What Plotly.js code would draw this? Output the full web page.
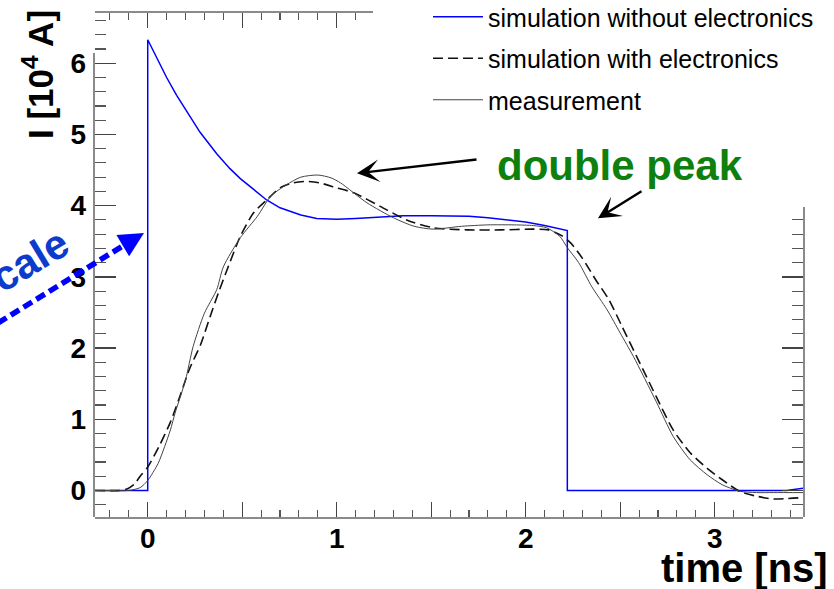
<!DOCTYPE html>
<html><head><meta charset="utf-8">
<script src="https://cdn.plot.ly/plotly-3.0.1.min.js"></script>
<style>html,body{margin:0;padding:0;background:#fff;}</style>
</head><body><div id="chart" style="width:834px;height:589px;"></div>
<script>
const seriesNames = ['simulation without electronics', 'simulation with electronics', 'measurement'];

const tNoElec = [-0.279, 0, 0, 0.03, 0.065, 0.10, 0.153, 0.206, 0.277, 0.365, 0.435, 0.49, 0.523, 0.595, 0.629, 0.70, 0.752, 0.81, 0.894, 0.95, 1.0, 1.1, 1.2, 1.35, 1.5, 1.6, 1.7, 1.8, 1.9, 2.0, 2.1, 2.22, 2.22, 3.38, 3.467];
const iNoElec = [0, 0, 6.33, 6.17, 5.98, 5.80, 5.55, 5.32, 5.03, 4.73, 4.52, 4.38, 4.31, 4.15, 4.08, 3.97, 3.92, 3.87, 3.82, 3.81, 3.81, 3.82, 3.84, 3.86, 3.86, 3.86, 3.85, 3.83, 3.80, 3.77, 3.72, 3.65, 0, 0, 0.03];

const tWithElec = [-0.279, -0.15, -0.11, -0.07, -0.04, 0, 0.06, 0.12, 0.17, 0.22, 0.28, 0.33, 0.38, 0.42, 0.49, 0.56, 0.63, 0.70, 0.77, 0.84, 0.91, 1.0, 1.09, 1.23, 1.37, 1.51, 1.69, 1.87, 2.04, 2.12, 2.19, 2.24, 2.30, 2.37, 2.44, 2.51, 2.60, 2.69, 2.78, 2.87, 2.96, 3.04, 3.13, 3.22, 3.31, 3.467];
const iWithElec = [0, 0, 0.02, 0.09, 0.2, 0.33, 0.62, 0.96, 1.32, 1.70, 2.05, 2.44, 2.82, 3.10, 3.57, 3.90, 4.08, 4.25, 4.32, 4.34, 4.32, 4.25, 4.18, 3.99, 3.80, 3.69, 3.66, 3.66, 3.67, 3.66, 3.58, 3.47, 3.26, 2.96, 2.68, 2.30, 1.81, 1.32, 0.85, 0.53, 0.31, 0.15, -0.01, -0.08, -0.12, -0.10];

const tMeas = [-0.279, -0.1, -0.04, 0, 0.055, 0.09, 0.12, 0.145, 0.2, 0.24, 0.30, 0.365, 0.40, 0.49, 0.58, 0.65, 0.72, 0.81, 0.90, 0.97, 1.02, 1.16, 1.30, 1.41, 1.51, 1.66, 1.80, 1.94, 2.04, 2.11, 2.18, 2.22, 2.28, 2.35, 2.43, 2.50, 2.57, 2.69, 2.78, 2.87, 2.96, 3.04, 3.13, 3.22, 3.31, 3.467];
const iMeas = [0, 0, 0.04, 0.14, 0.38, 0.62, 0.85, 1.09, 1.55, 2.02, 2.49, 2.82, 3.14, 3.55, 3.85, 4.13, 4.27, 4.40, 4.43, 4.39, 4.32, 4.04, 3.83, 3.71, 3.67, 3.71, 3.73, 3.73, 3.72, 3.69, 3.57, 3.41, 3.20, 2.86, 2.54, 2.21, 1.88, 1.25, 0.76, 0.43, 0.22, 0.08, -0.01, -0.03, -0.03, -0.03];

const xTickVals = [0, 0.5, 1, 1.5, 2, 2.5, 3];
const xTickText = ['0', '', '1', '', '2', '', '3'];
const yTickVals = [0, 1, 2, 3, 4, 5, 6];
const yTickText = ['0', '1', '2', '3', '4', '5', '6'];

const xRange = [-0.279, 3.467];
const yRange = [-0.373, 6.706];

// layout helpers: pixel -> paper
const L = 95, T = 13, PW = 708, PH = 504;
const px = x => (x - L) / PW;
const py = y => (T + PH - y) / PH;

const FONT = 'Liberation Sans, Arial, Helvetica, sans-serif';

const traces = [
  {x: tNoElec, y: iNoElec, name: seriesNames[0], type: 'scatter', mode: 'lines',
   line: {color: '#0000ff', width: 1.5}, legendgroup: 'a', hoverinfo: 'skip'},
  {x: tWithElec, y: iWithElec, name: seriesNames[1], type: 'scatter', mode: 'lines',
   line: {color: '#111111', width: 1.6, dash: '10px,5px', shape: 'spline', smoothing: 0.7}, legendgroup: 'b', hoverinfo: 'skip'},
  {x: tMeas, y: iMeas, name: seriesNames[2], type: 'scatter', mode: 'lines',
   line: {color: '#444444', width: 1, shape: 'spline', smoothing: 0.7}, legendgroup: 'c', hoverinfo: 'skip'},
  // helpers that only bind the partial frame axes (draw nothing)
  {x: tMeas, y: iMeas, xaxis: 'x2', yaxis: 'y', mode: 'none', showlegend: false, hoverinfo: 'skip'},
  {x: tMeas, y: iMeas, xaxis: 'x', yaxis: 'y2', mode: 'none', showlegend: false, hoverinfo: 'skip'},
  {x: tMeas, y: iMeas, xaxis: 'x', yaxis: 'y3', mode: 'none', showlegend: false, hoverinfo: 'skip'}
];

const axCommon = {
  showgrid: false, zeroline: false, ticks: 'inside', tickcolor: '#444', tickwidth: 1.3,
  showline: true, linecolor: '#8a8a8a', linewidth: 1.6,
  tickfont: {family: FONT, size: 28, color: '#000', weight: 700},
  fixedrange: true
};

const topDomainEnd = px(373);
const rightDomainEnd = py(207);
const leftLineEnd = py(53);

const layout = {
  width: 834, height: 589,
  margin: {l: 95, r: 31, t: 13, b: 72, pad: 0, autoexpand: false},
  paper_bgcolor: '#ffffff', plot_bgcolor: 'rgba(0,0,0,0)',
  showlegend: true,
  legend: {
    x: px(428), xanchor: 'left', y: py(-6), yanchor: 'top',
    bgcolor: 'rgba(0,0,0,0)', borderwidth: 0,
    font: {family: FONT, size: 25, color: '#000'},
    traceorder: 'grouped', tracegroupgap: 6, itemwidth: 50
  },
  xaxis: Object.assign({}, axCommon, {
    range: xRange, tickmode: 'array', tickvals: xTickVals, ticktext: xTickText,
    ticklen: 15, ticklabelstandoff: -4,
    minor: {ticks: 'inside', dtick: 0.1, tick0: 0, ticklen: 7, tickcolor: '#555', tickwidth: 1.1}
  }),
  xaxis2: Object.assign({}, axCommon, {
    range: [xRange[0], xRange[0] + (xRange[1] - xRange[0]) * topDomainEnd],
    domain: [0, topDomainEnd], anchor: 'y', side: 'top',
    tickmode: 'array', tickvals: xTickVals, showticklabels: false, ticklen: 15,
    minor: {ticks: 'inside', dtick: 0.1, tick0: 0, ticklen: 7, tickcolor: '#555', tickwidth: 1.1}
  }),
  yaxis: Object.assign({}, axCommon, {
    range: yRange, tickmode: 'array', tickvals: yTickVals, ticktext: yTickText,
    ticklen: 21, showline: false, ticklabelstandoff: 8,
    minor: {ticks: 'inside', dtick: 0.2, tick0: 0, ticklen: 11, tickcolor: '#555', tickwidth: 1.1}
  }),
  yaxis2: Object.assign({}, axCommon, {
    range: [yRange[0], yRange[0] + (yRange[1] - yRange[0]) * rightDomainEnd],
    domain: [0, rightDomainEnd], anchor: 'x', side: 'right',
    tickmode: 'array', tickvals: yTickVals, showticklabels: false, ticklen: 21,
    minor: {ticks: 'inside', dtick: 0.2, tick0: 0, ticklen: 11, tickcolor: '#555', tickwidth: 1.1}
  }),
  yaxis3: Object.assign({}, axCommon, {
    range: [yRange[0], yRange[0] + (yRange[1] - yRange[0]) * leftLineEnd],
    domain: [0, leftLineEnd], anchor: 'x', side: 'left',
    ticks: '', showticklabels: false
  }),
  shapes: [
    {type: 'line', xref: 'paper', yref: 'paper', x0: px(-2), y0: py(323), x1: px(134), y1: py(239),
     line: {color: '#0000ff', width: 5.5, dash: '10px,5px'}, layer: 'above'}
  ],
  annotations: [
    {xref: 'paper', yref: 'paper', x: px(38), y: py(75), xanchor: 'center', yanchor: 'middle',
     text: 'I [10<sup>4</sup> A]', textangle: -90,
     showarrow: false, font: {family: FONT, size: 35, color: '#000', weight: 700}},
    {xref: 'paper', yref: 'paper', x: px(830), y: py(568), xanchor: 'right', yanchor: 'middle',
     text: 'time [ns]', showarrow: false, font: {family: FONT, size: 40, color: '#000', weight: 700}},
    {xref: 'paper', yref: 'paper', x: px(620), y: py(165.5), xanchor: 'center', yanchor: 'middle',
     text: 'double peak', showarrow: false,
     font: {family: FONT, size: 42, color: '#0d800d', weight: 700}},
    {xref: 'paper', yref: 'paper', x: px(357), y: py(173.3), text: '', showarrow: true,
     ax: 121, ay: -14, arrowhead: 3, arrowsize: 1.5, arrowwidth: 2.5, arrowcolor: '#000'},
    {xref: 'paper', yref: 'paper', x: px(598), y: py(218.3), text: '', showarrow: true,
     ax: 45, ay: -28, arrowhead: 3, arrowsize: 1.5, arrowwidth: 2.5, arrowcolor: '#000'},
    {xref: 'paper', yref: 'paper', x: px(144), y: py(233), text: '', showarrow: true,
     ax: -15, ay: 9, arrowhead: 2, arrowsize: 0.9, arrowwidth: 5.5, arrowcolor: '#0000ff'},
    {xref: 'paper', yref: 'paper', x: px(19), y: py(266), xanchor: 'center', yanchor: 'middle',
     text: 'scale', textangle: -31, showarrow: false,
     font: {family: FONT, size: 42, color: '#0b3ccc', weight: 700}}
  ]
};

Plotly.newPlot('chart', traces, layout, {staticPlot: true, displayModeBar: false});
</script>
</body></html>
